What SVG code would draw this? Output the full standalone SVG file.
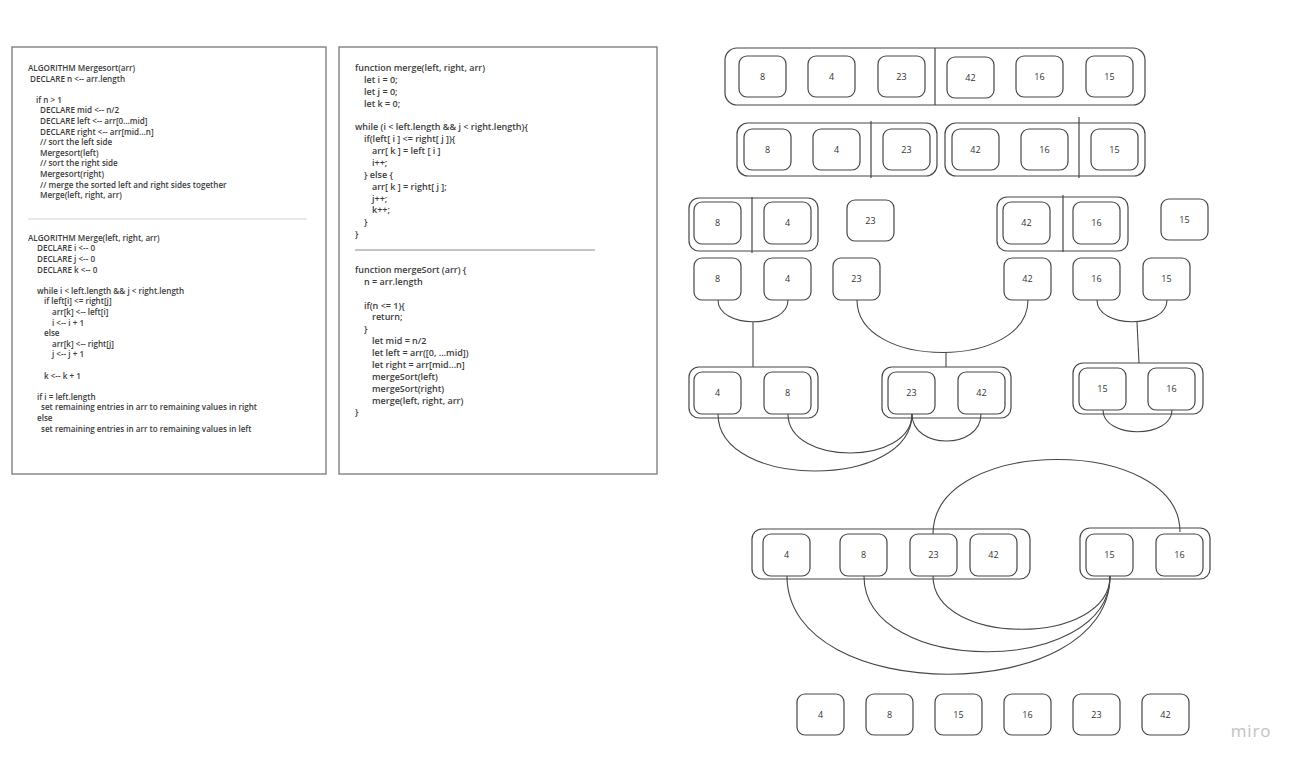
<svg xmlns="http://www.w3.org/2000/svg" width="1302" height="768" viewBox="0 0 1302 768">
<style>
.bg{fill:#fff}
.panel{fill:#fff;stroke:#808080;stroke-width:1.4}
.pc{font-family:"Open Sans","Liberation Sans",sans-serif;font-size:8.1px;font-weight:600;fill:#3c3c3c}
.mc{font-family:"Open Sans","Liberation Sans",sans-serif;font-size:9px;font-weight:600;fill:#3c3c3c}
.grp{fill:#fff;stroke:#474747;stroke-width:1.2}
.box{fill:#fff;stroke:#474747;stroke-width:1.2}
.div{stroke:#474747;stroke-width:1.2}
.lbl{font-family:"Open Sans","Liberation Sans",sans-serif;font-size:9px;fill:#333;text-anchor:middle}
.conn{fill:none;stroke:#474747;stroke-width:1.1}
</style>
<rect class="bg" x="0" y="0" width="1302" height="768"/>

<g id="pseudocode-panel">
<rect class="panel" x="12" y="47" width="314" height="427"/>
<g class="pc">
<text x="28" y="71">ALGORITHM Mergesort(arr)</text>
<text x="30" y="81.6">DECLARE n &lt;-- arr.length</text>
<text x="36" y="102.8">if n &gt; 1</text>
<text x="40" y="113.4">DECLARE mid &lt;-- n/2</text>
<text x="40" y="124">DECLARE left &lt;-- arr[0...mid]</text>
<text x="40" y="134.6">DECLARE right &lt;-- arr[mid...n]</text>
<text x="40" y="145.2">// sort the left side</text>
<text x="40" y="155.8">Mergesort(left)</text>
<text x="40" y="166.4">// sort the right side</text>
<text x="40" y="177">Mergesort(right)</text>
<text x="40" y="187.6">// merge the sorted left and right sides together</text>
<text x="40" y="198.2">Merge(left, right, arr)</text>
<text x="28" y="240.7">ALGORITHM Merge(left, right, arr)</text>
<text x="37" y="251.3">DECLARE i &lt;-- 0</text>
<text x="37" y="261.9">DECLARE j &lt;-- 0</text>
<text x="37" y="272.5">DECLARE k &lt;-- 0</text>
<text x="37" y="293.7">while i &lt; left.length &amp;&amp; j &lt; right.length</text>
<text x="44" y="304.3">if left[i] &lt;= right[j]</text>
<text x="52" y="314.9">arr[k] &lt;-- left[i]</text>
<text x="52" y="325.5">i &lt;-- i + 1</text>
<text x="44" y="336.1">else</text>
<text x="52" y="346.7">arr[k] &lt;-- right[j]</text>
<text x="52" y="357.3">j &lt;-- j + 1</text>
<text x="44" y="378.5">k &lt;-- k + 1</text>
<text x="37" y="399.7">if i = left.length</text>
<text x="41" y="410.3">set remaining entries in arr to remaining values in right</text>
<text x="37" y="420.9">else</text>
<text x="41" y="431.5">set remaining entries in arr to remaining values in left</text>
</g>
<line x1="28" y1="219" x2="307" y2="219" stroke="#e2e2e2" stroke-width="1.5"/>
</g>

<g id="code-panel">
<rect class="panel" x="339" y="47" width="318" height="427"/>
<g class="mc">
<text x="355" y="71">function merge(left, right, arr)</text>
<text x="364" y="82.9">let i = 0;</text>
<text x="364" y="94.7">let j = 0;</text>
<text x="364" y="106.6">let k = 0;</text>
<text x="355" y="130.3">while (i &lt; left.length &amp;&amp; j &lt; right.length){</text>
<text x="364" y="142.2">if(left[ i ] &lt;= right[ j ]){</text>
<text x="372" y="154">arr[ k ] = left [ i ]</text>
<text x="372" y="165.9">i++;</text>
<text x="364" y="177.7">} else {</text>
<text x="372" y="189.6">arr[ k ] = right[ j ];</text>
<text x="372" y="201.5">j++;</text>
<text x="372" y="213.3">k++;</text>
<text x="364" y="225.2">}</text>
<text x="355" y="237">}</text>
<text x="355" y="273">function mergeSort (arr) {</text>
<text x="364" y="284.9">n = arr.length</text>
<text x="364" y="308.6">if(n &lt;= 1){</text>
<text x="372" y="320.4">return;</text>
<text x="364" y="332.3">}</text>
<text x="372" y="344.2">let mid = n/2</text>
<text x="372" y="356">let left = arr([0, ...mid])</text>
<text x="372" y="367.9">let right = arr[mid...n]</text>
<text x="372" y="379.7">mergeSort(left)</text>
<text x="372" y="391.6">mergeSort(right)</text>
<text x="372" y="403.5">merge(left, right, arr)</text>
<text x="355" y="415.3">}</text>
</g>
<line x1="355" y1="250" x2="595" y2="250" stroke="#8a8a8a" stroke-width="1"/>
</g>

<g id="row1">
<rect class="grp" x="725" y="48" width="420" height="57" rx="12"/>
<line class="div" x1="935" y1="48" x2="935" y2="105"/>
<g id="r1-8"><rect class="box" x="739" y="56" width="47" height="41" rx="8"/><text class="lbl" x="762.5" y="79.5">8</text></g>
<g id="r1-4"><rect class="box" x="808" y="56" width="47" height="41" rx="8"/><text class="lbl" x="831.5" y="79.5">4</text></g>
<g id="r1-23"><rect class="box" x="878" y="56" width="47" height="41" rx="8"/><text class="lbl" x="901.5" y="79.5">23</text></g>
<g id="r1-42"><rect class="box" x="947" y="57" width="47" height="41" rx="8"/><text class="lbl" x="970.5" y="80.5">42</text></g>
<g id="r1-16"><rect class="box" x="1016" y="56" width="47" height="41" rx="8"/><text class="lbl" x="1039.5" y="79.5">16</text></g>
<g id="r1-15"><rect class="box" x="1086" y="56" width="47" height="41" rx="8"/><text class="lbl" x="1109.5" y="79.5">15</text></g>
</g>

<g id="row2">
<rect class="grp" x="737" y="123" width="200" height="53" rx="11"/>
<rect class="grp" x="945" y="123" width="200" height="53" rx="11"/>
<line class="div" x1="871" y1="121" x2="871" y2="178"/>
<line class="div" x1="1079" y1="117" x2="1079" y2="178"/>
<g id="r2-8"><rect class="box" x="744" y="129" width="47" height="41" rx="8"/><text class="lbl" x="767.5" y="152.5">8</text></g>
<g id="r2-4"><rect class="box" x="813" y="129" width="47" height="41" rx="8"/><text class="lbl" x="836.5" y="152.5">4</text></g>
<g id="r2-23"><rect class="box" x="883" y="129" width="47" height="41" rx="8"/><text class="lbl" x="906.5" y="152.5">23</text></g>
<g id="r2-42"><rect class="box" x="952" y="129" width="47" height="41" rx="8"/><text class="lbl" x="975.5" y="152.5">42</text></g>
<g id="r2-16"><rect class="box" x="1021" y="129" width="47" height="41" rx="8"/><text class="lbl" x="1044.5" y="152.5">16</text></g>
<g id="r2-15"><rect class="box" x="1091" y="129" width="47" height="41" rx="8"/><text class="lbl" x="1114.5" y="152.5">15</text></g>
</g>

<g id="row3">
<rect class="grp" x="689" y="198" width="129" height="53" rx="10"/>
<rect class="grp" x="997" y="197" width="131" height="54" rx="10"/>
<line class="div" x1="752" y1="197" x2="752" y2="253"/>
<line class="div" x1="1063" y1="195" x2="1063" y2="252"/>
<g id="r3-8"><rect class="box" x="694" y="202" width="47" height="42" rx="8"/><text class="lbl" x="717.5" y="226">8</text></g>
<g id="r3-4"><rect class="box" x="764" y="202" width="47" height="42" rx="8"/><text class="lbl" x="787.5" y="226">4</text></g>
<g id="r3-23"><rect class="box" x="847" y="200" width="47" height="41" rx="8"/><text class="lbl" x="870.5" y="223.5">23</text></g>
<g id="r3-42"><rect class="box" x="1003" y="202" width="47" height="42" rx="8"/><text class="lbl" x="1026.5" y="226">42</text></g>
<g id="r3-16"><rect class="box" x="1073" y="202" width="47" height="42" rx="8"/><text class="lbl" x="1096.5" y="226">16</text></g>
<g id="r3-15"><rect class="box" x="1161" y="199" width="47" height="41" rx="8"/><text class="lbl" x="1184.5" y="222.5">15</text></g>
</g>

<g id="row4">
<g id="r4-8"><rect class="box" x="694" y="258" width="47" height="42" rx="8"/><text class="lbl" x="717.5" y="282">8</text></g>
<g id="r4-4"><rect class="box" x="764" y="258" width="47" height="42" rx="8"/><text class="lbl" x="787.5" y="282">4</text></g>
<g id="r4-23"><rect class="box" x="833" y="258" width="47" height="42" rx="8"/><text class="lbl" x="856.5" y="282">23</text></g>
<g id="r4-42"><rect class="box" x="1004" y="258" width="47" height="42" rx="8"/><text class="lbl" x="1027.5" y="282">42</text></g>
<g id="r4-16"><rect class="box" x="1073" y="258" width="47" height="42" rx="8"/><text class="lbl" x="1096.5" y="282">16</text></g>
<g id="r4-15"><rect class="box" x="1143" y="258" width="47" height="42" rx="8"/><text class="lbl" x="1166.5" y="282">15</text></g>
</g>

<g id="row5">
<rect class="grp" x="689" y="367" width="129" height="51" rx="10"/>
<rect class="grp" x="882" y="367" width="129" height="51" rx="10"/>
<rect class="grp" x="1073" y="363" width="130" height="51" rx="10"/>
<g id="r5-4"><rect class="box" x="694" y="372" width="47" height="42" rx="8"/><text class="lbl" x="717.5" y="396">4</text></g>
<g id="r5-8"><rect class="box" x="764" y="372" width="47" height="42" rx="8"/><text class="lbl" x="787.5" y="396">8</text></g>
<g id="r5-23"><rect class="box" x="888" y="372" width="47" height="42" rx="8"/><text class="lbl" x="911.5" y="396">23</text></g>
<g id="r5-42"><rect class="box" x="958" y="372" width="47" height="42" rx="8"/><text class="lbl" x="981.5" y="396">42</text></g>
<g id="r5-15"><rect class="box" x="1079" y="368" width="47" height="42" rx="8"/><text class="lbl" x="1102.5" y="392">15</text></g>
<g id="r5-16"><rect class="box" x="1148" y="368" width="47" height="42" rx="8"/><text class="lbl" x="1171.5" y="392">16</text></g>
</g>

<g id="row6">
<rect class="grp" x="752" y="529" width="278" height="50" rx="10"/>
<rect class="grp" x="1080" y="528" width="130" height="51" rx="10"/>
<g id="r6-4"><rect class="box" x="763" y="534" width="47" height="42" rx="8"/><text class="lbl" x="786.5" y="558">4</text></g>
<g id="r6-8"><rect class="box" x="840" y="534" width="47" height="42" rx="8"/><text class="lbl" x="863.5" y="558">8</text></g>
<g id="r6-23"><rect class="box" x="910" y="534" width="47" height="42" rx="8"/><text class="lbl" x="933.5" y="558">23</text></g>
<g id="r6-42"><rect class="box" x="970" y="534" width="47" height="42" rx="8"/><text class="lbl" x="993.5" y="558">42</text></g>
<g id="r6-15"><rect class="box" x="1086" y="534" width="47" height="42" rx="8"/><text class="lbl" x="1109.5" y="558">15</text></g>
<g id="r6-16"><rect class="box" x="1156" y="534" width="47" height="42" rx="8"/><text class="lbl" x="1179.5" y="558">16</text></g>
</g>

<g id="row7">
<g id="r7-4"><rect class="box" x="797" y="694" width="47" height="41" rx="8"/><text class="lbl" x="820.5" y="717.5">4</text></g>
<g id="r7-8"><rect class="box" x="866" y="694" width="47" height="41" rx="8"/><text class="lbl" x="889.5" y="717.5">8</text></g>
<g id="r7-15"><rect class="box" x="935" y="694" width="47" height="41" rx="8"/><text class="lbl" x="958.5" y="717.5">15</text></g>
<g id="r7-16"><rect class="box" x="1004" y="694" width="47" height="41" rx="8"/><text class="lbl" x="1027.5" y="717.5">16</text></g>
<g id="r7-23"><rect class="box" x="1073" y="694" width="47" height="41" rx="8"/><text class="lbl" x="1096.5" y="717.5">23</text></g>
<g id="r7-42"><rect class="box" x="1142" y="694" width="47" height="41" rx="8"/><text class="lbl" x="1165.5" y="717.5">42</text></g>
</g>

<g id="connectors">
<path class="conn" d="M718,300 C718,329 788,329 788,300"/>
<path class="conn" d="M753,322 L753,367"/>
<path class="conn" d="M857,300 C857,370 1028,370 1028,300"/>
<path class="conn" d="M946,352 L946,367"/>
<path class="conn" d="M1097,300 C1097,329 1167,329 1167,300"/>
<path class="conn" d="M1137,322 L1139,363"/>
<path class="conn" d="M1103,410 C1103,439 1172,439 1172,410"/>
<path class="conn" d="M718,414 C718,490 912,490 912,414"/>
<path class="conn" d="M788,414 C788,466 912,466 912,414"/>
<path class="conn" d="M981,414 C981,450 912,450 912,414"/>
<path class="conn" d="M933,534 C933,435 1180,435 1180,532"/>
<path class="conn" d="M787,576 C787,707 1110,707 1110,576"/>
<path class="conn" d="M864,576 C864,677 1110,677 1110,576"/>
<path class="conn" d="M933,576 C933,647 1110,647 1110,576"/>
</g>

<text x="1251" y="737" font-family="'Open Sans','Liberation Sans',sans-serif" font-size="17" fill="#c2c2c2" text-anchor="middle" letter-spacing="0.8">miro</text>
</svg>
